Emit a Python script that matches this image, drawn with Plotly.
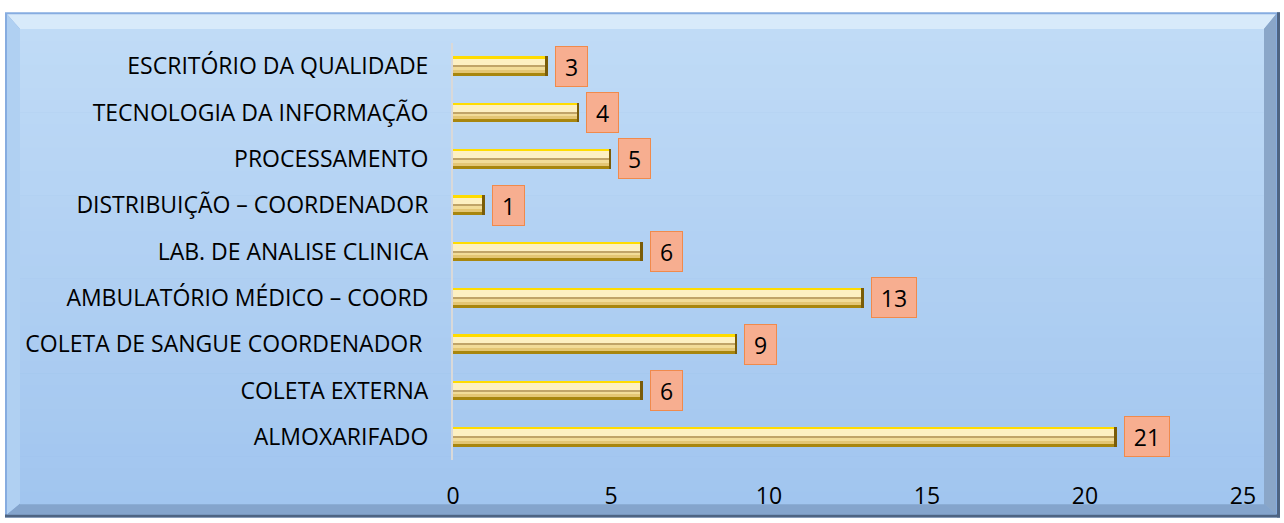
import plotly.graph_objects as go

# data (bottom to top)
categories = ["ALMOXARIFADO", "COLETA EXTERNA", "COLETA DE SANGUE COORDENADOR ",
              "AMBULATÓRIO MÉDICO – COORD", "LAB. DE ANALISE CLINICA",
              "DISTRIBUIÇÃO – COORDENADOR", "PROCESSAMENTO",
              "TECNOLOGIA DA INFORMAÇÃO", "ESCRITÓRIO DA QUALIDADE"]
values = [21, 6, 9, 13, 6, 1, 5, 4, 3]
x_ticks = [0, 5, 10, 15, 20, 25]

W, H = 1284, 523
L, R, T, B = 453, 41, 43, 60
PW, PH = W - L - R, H - T - B
BAND = PH / len(categories)  # px per category
XPX = PW / 25.0               # px per x unit


def px2x(px):
    return (px - L) / PW


def px2y(py):
    return (H - B - py) / PH


def u(px):
    return px / BAND


fig = go.Figure()

# layered bars to imitate the bevelled gold bar (offsets in px from centre, upward positive)
layers = [
    (-10.0, 10.0, "#a8860e"),
    (-7.0, 10.0, "#ffdc00"),
    (-7.0, 7.5, "#e4c674"),
    (-4.0, 7.5, "#f2dc98"),
    (-0.6, 7.5, "#fdf0c2"),
    (-0.6, 0.6, "#c0a468"),
]
for lo, hi, col in layers:
    fig.add_trace(go.Bar(
        x=values, y=categories, orientation="h",
        offset=u(lo), width=u(hi - lo),
        marker=dict(color=col, line=dict(width=0)),
        hoverinfo="skip", showlegend=False,
    ))

# dark bevelled right end of each bar
cap = 2.5 / XPX
fig.add_trace(go.Bar(
    x=[cap] * len(values), base=[v - cap for v in values], y=categories,
    orientation="h", offset=u(-10), width=u(20),
    marker=dict(color="#7a5c08", line=dict(width=0)),
    hoverinfo="skip", showlegend=False,
))

# value labels
for c, v in zip(categories, values):
    t = str(v)
    fig.add_annotation(
        x=v, y=c, text=t, showarrow=False, xanchor="left", xshift=7,
        font=dict(family="Open Sans", size=23, color="#000000"),
        bgcolor="#f7ae90", bordercolor="#f08a4c", borderwidth=1,
        width=18 + 13 * len(t), height=39, borderpad=0,
    )

shapes = []
# outer frame
shapes.append(dict(type="rect", xref="paper", yref="paper", layer="below",
                   x0=px2x(5), x1=px2x(1280), y0=px2y(12), y1=px2y(521),
                   fillcolor="#86ace0", line=dict(width=0)))
shapes.append(dict(type="rect", xref="paper", yref="paper", layer="below",
                   x0=px2x(1277), x1=px2x(1280), y0=px2y(12), y1=px2y(521),
                   fillcolor="#4e6482", line=dict(width=0)))
shapes.append(dict(type="rect", xref="paper", yref="paper", layer="below",
                   x0=px2x(5), x1=px2x(1280), y0=px2y(518), y1=px2y(521),
                   fillcolor="#4e6482", line=dict(width=0)))


def poly(pts, col):
    d = "M " + " L ".join(f"{px2x(a)},{px2y(b)}" for a, b in pts) + " Z"
    return dict(type="path", xref="paper", yref="paper", layer="below", path=d,
                fillcolor=col, line=dict(width=0))


shapes.append(poly([(7, 14), (1276, 14), (1264, 29), (20, 29)], "#d8eafa"))
shapes.append(poly([(7, 14), (20, 29), (20, 507), (7, 518)], "#b0d0f2"))
shapes.append(poly([(7, 518), (20, 507), (1264, 507), (1276, 518)], "#84a4cc"))
shapes.append(poly([(1276, 14), (1264, 29), (1264, 507), (1276, 518)], "#8aa6c8"))

# inner gradient face
top_c = (0xc0, 0xdb, 0xf6)
bot_c = (0xa1, 0xc5, 0xef)
N = 40
y_top, y_bot = 29, 507
for i in range(N):
    f = (i + 0.5) / N
    col = "rgb(%d,%d,%d)" % tuple(round(a + (b - a) * f) for a, b in zip(top_c, bot_c))
    ya = y_top + (y_bot - y_top) * i / N
    yb = y_top + (y_bot - y_top) * (i + 1) / N + 0.6
    shapes.append(dict(type="rect", xref="paper", yref="paper", layer="below",
                       x0=px2x(20), x1=px2x(1264), y0=px2y(ya), y1=px2y(yb),
                       fillcolor=col, line=dict(width=0)))

fig.update_layout(
    width=W, height=H,
    margin=dict(l=L, r=R, t=T, b=B),
    paper_bgcolor="#ffffff", plot_bgcolor="rgba(0,0,0,0)",
    barmode="overlay", bargap=0,
    shapes=shapes,
    font=dict(family="Open Sans", size=23, color="#000000"),
    xaxis=dict(range=[0, 25], tickvals=x_ticks, showgrid=False, zeroline=False,
               showline=False, ticks="", ticklabelstandoff=20,
               tickfont=dict(size=23)),
    yaxis=dict(categoryorder="array", categoryarray=categories,
               range=[-0.5, len(categories) - 0.5],
               showgrid=False, zeroline=False, showline=True,
               linecolor="#d9d9d9", linewidth=2, ticks="",
               ticklabelstandoff=18, tickfont=dict(size=23)),
)

fig.write_html("out.html", config={"displayModeBar": False},
               post_script="document.body.style.margin='0px';")
